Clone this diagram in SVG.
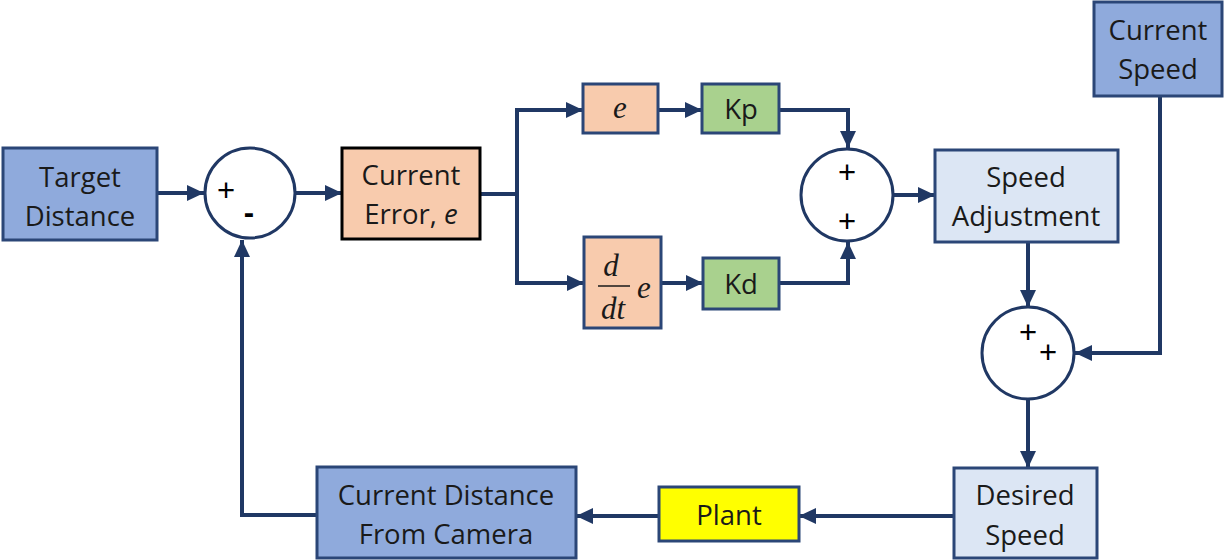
<svg xmlns="http://www.w3.org/2000/svg" width="1225" height="560" viewBox="0 0 1225 560">
<style>
.box{stroke:#2b4677;stroke-width:3}
.mid{fill:#8faadc}
.light{fill:#dce6f4}
.peach{fill:#f8cbad}
.green{fill:#a9d18e}
.sum{fill:#fff;stroke:#203864;stroke-width:3}
.t{font-family:"Open Sans","Noto Sans",sans-serif;font-size:27.5px;fill:#1a1a1a;text-anchor:middle;dominant-baseline:central}
.m{font-family:"Liberation Serif","DejaVu Serif",serif;font-style:italic;font-size:31px;fill:#1a1a1a;text-anchor:middle;dominant-baseline:central}
.sg{font-family:"Liberation Sans",sans-serif;font-size:31px;fill:#000;text-anchor:middle;dominant-baseline:central}
.c{fill:none;stroke:#203864;stroke-width:4}
</style>
<defs>
<marker id="ah" markerUnits="userSpaceOnUse" markerWidth="18" markerHeight="18" refX="17" refY="8" orient="auto">
<path d="M0,0 L17,8 L0,16 z" fill="#203864"/>
</marker>
</defs>
<g id="connectors">
<path class="c" d="M157,193 H204" marker-end="url(#ah)"/>
<path class="c" d="M296,193 H342" marker-end="url(#ah)"/>
<path class="c" d="M480,194 H517 V110 H583" marker-end="url(#ah)"/>
<path class="c" d="M517,194 V283 H584" marker-end="url(#ah)"/>
<path class="c" d="M658,110 H702" marker-end="url(#ah)"/>
<path class="c" d="M779,110 H848 V148" marker-end="url(#ah)"/>
<path class="c" d="M661,283 H703" marker-end="url(#ah)"/>
<path class="c" d="M779,283 H848 V242" marker-end="url(#ah)"/>
<path class="c" d="M893,195 H935" marker-end="url(#ah)"/>
<path class="c" d="M1028,242 V307" marker-end="url(#ah)"/>
<path class="c" d="M1160,96 V353 H1075" marker-end="url(#ah)"/>
<path class="c" d="M1028,399 V468" marker-end="url(#ah)"/>
<path class="c" d="M954,516 H799" marker-end="url(#ah)"/>
<path class="c" d="M659,516 H576" marker-end="url(#ah)"/>
<path class="c" d="M317,515 H242 V240" marker-end="url(#ah)"/>
</g>
<g id="target-distance">
<rect class="box mid" x="3" y="148" width="154" height="92"/>
<text class="t" x="80" y="176">Target</text>
<text class="t" x="80" y="215">Distance</text>
</g>
<g id="sum1">
<circle class="sum" cx="250" cy="193" r="45"/>
<text class="sg" x="226" y="190">+</text>
<text class="sg" x="249" y="212" font-weight="bold">-</text>
</g>
<g id="current-error">
<rect x="342" y="148" width="138" height="91" fill="#f8cbad" stroke="#000" stroke-width="3"/>
<text class="t" x="411" y="174">Current</text>
<text class="t" x="411" y="213">Error, <tspan font-style="italic">e</tspan></text>
</g>
<g id="e">
<rect class="box peach" x="583" y="84" width="75" height="49"/>
<text class="m" x="620" y="107">e</text>
</g>
<g id="kp">
<rect class="box green" x="702" y="84" width="77" height="49"/>
<text class="t" x="741" y="108">Kp</text>
</g>
<g id="ddt">
<rect class="box peach" x="584" y="237" width="77" height="91"/>
<text class="m" x="611" y="265">d</text>
<line x1="598" y1="286" x2="630" y2="286" stroke="#1a1a1a" stroke-width="1.5"/>
<text class="m" x="613" y="308">dt</text>
<text class="m" x="644" y="287">e</text>
</g>
<g id="kd">
<rect class="box green" x="703" y="258" width="76" height="51"/>
<text class="t" x="741" y="283">Kd</text>
</g>
<g id="sum2">
<circle class="sum" cx="847" cy="195" r="46"/>
<text class="sg" x="847" y="172">+</text>
<text class="sg" x="847" y="221">+</text>
</g>
<g id="speed-adjustment">
<rect class="box light" x="935" y="150" width="183" height="92"/>
<text class="t" x="1026" y="176">Speed</text>
<text class="t" x="1026" y="215">Adjustment</text>
</g>
<g id="current-speed">
<rect class="box mid" x="1094" y="2" width="128" height="94"/>
<text class="t" x="1158" y="29">Current</text>
<text class="t" x="1158" y="68">Speed</text>
</g>
<g id="sum3">
<circle class="sum" cx="1028" cy="353" r="46"/>
<text class="sg" x="1028" y="332">+</text>
<text class="sg" x="1048" y="352">+</text>
</g>
<g id="desired-speed">
<rect class="box light" x="954" y="468" width="143" height="90"/>
<text class="t" x="1025" y="494">Desired</text>
<text class="t" x="1025" y="534">Speed</text>
</g>
<g id="plant">
<rect class="box" x="659" y="487" width="140" height="54" fill="#ffff00"/>
<text class="t" x="729" y="514">Plant</text>
</g>
<g id="current-distance">
<rect class="box mid" x="317" y="467" width="259" height="91"/>
<text class="t" x="446" y="494">Current Distance</text>
<text class="t" x="446" y="533">From Camera</text>
</g>
</svg>
